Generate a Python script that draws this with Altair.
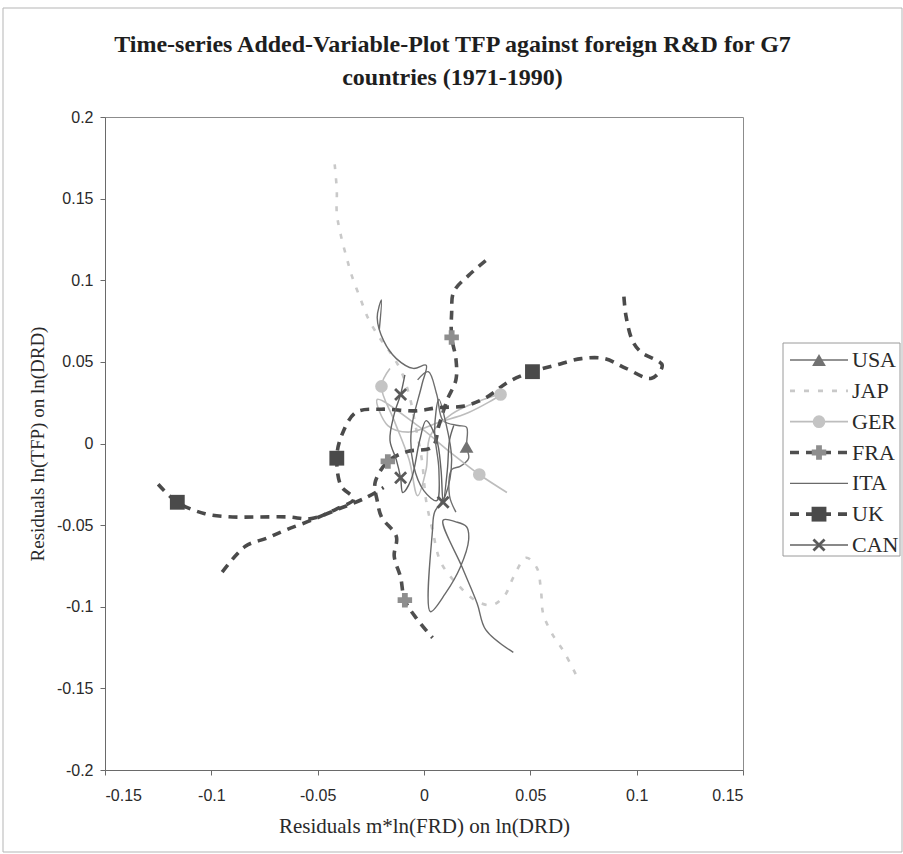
import altair as alt
import pandas as pd

COUNTRIES = ["USA", "JAP", "GER", "FRA", "ITA", "UK", "CAN"]
X_TICKS = [-0.15, -0.1, -0.05, 0, 0.05, 0.1, 0.15]
Y_TICKS = [-0.2, -0.15, -0.1, -0.05, 0, 0.05, 0.1, 0.15, 0.2]

# ---- series paths ----
USA_X = [-0.003, 0.002, 0.006, 0.009, 0.016, 0.020, 0.020, 0.021, 0.017, 0.013, 0.012, 0.015]
USA_Y = [0.039, 0.044, 0.030, 0.014, 0.011, 0.010, -0.002, -0.009, -0.014, -0.016, -0.032, -0.042]

JAP_X = [-0.042, -0.041, -0.041, -0.039, -0.036, -0.034, -0.030, -0.026, -0.021, -0.016, -0.011,
         -0.007, -0.004, -0.001, 0.001, 0.004, 0.008, 0.017, 0.024, 0.032, 0.038, 0.042, 0.048,
         0.053, 0.055, 0.056, 0.060, 0.066, 0.072]
JAP_Y = [0.171, 0.155, 0.141, 0.127, 0.112, 0.103, 0.089, 0.076, 0.065, 0.056, 0.045,
         0.030, 0.011, -0.010, -0.035, -0.053, -0.073, -0.088, -0.096, -0.099, -0.093, -0.082,
         -0.070, -0.076, -0.090, -0.104, -0.116, -0.128, -0.143]

GER_X = [-0.016, -0.020, -0.014, -0.007, -0.003, 0.001, 0.003, 0.013, 0.024, 0.036, 0.021,
         0.007, -0.007, -0.017, -0.022, -0.002, 0.012, 0.026, 0.039]
GER_Y = [0.046, 0.035, 0.014, -0.010, -0.032, -0.016, 0.005, 0.018, 0.025, 0.030, 0.019,
         0.013, 0.007, 0.011, 0.027, 0.010, -0.005, -0.019, -0.030]

FRA_X = [0.029, 0.021, 0.014, 0.013, 0.013, 0.015, 0.015, 0.011, 0.007, 0.004, -0.008,
         -0.017, -0.023, -0.022, -0.020, -0.013, -0.014, -0.011, -0.009, -0.003, 0.004]
FRA_Y = [0.112, 0.103, 0.093, 0.080, 0.065, 0.052, 0.039, 0.027, 0.011, -0.002, -0.005,
         -0.011, -0.024, -0.035, -0.045, -0.057, -0.069, -0.082, -0.096, -0.108, -0.119]

ITA_X = [-0.021, -0.020, -0.022, -0.019, -0.013, -0.005, 0.001, -0.001, -0.006, -0.005, 0.000,
         0.006, 0.007, 0.005, 0.007, 0.010, 0.013, 0.010, 0.005, 0.004, 0.003, 0.010, 0.017,
         0.021, 0.020, 0.015, 0.009, 0.018, 0.025, 0.029, 0.042]
ITA_Y = [0.070, 0.088, 0.077, 0.063, 0.052, 0.046, 0.048, 0.036, 0.008, -0.013, -0.029,
         -0.035, -0.016, 0.008, 0.027, 0.014, -0.010, -0.032, -0.042, -0.053, -0.103, -0.092, -0.076,
         -0.059, -0.051, -0.048, -0.047, -0.076, -0.098, -0.114, -0.128]

# UK drawn as two visible pieces
UK_A_X = [0.094, 0.095, 0.098, 0.102, 0.112, 0.107, 0.095, 0.085, 0.074, 0.062, 0.051, 0.040,
          0.029, 0.019, 0.007, -0.004, -0.020, -0.032, -0.039, -0.041, -0.039, -0.033, -0.041,
          -0.053, -0.065, -0.074, -0.084, -0.095]
UK_A_Y = [0.090, 0.078, 0.063, 0.056, 0.048, 0.040, 0.046, 0.052, 0.052, 0.048, 0.044, 0.038,
          0.028, 0.023, 0.022, 0.020, 0.021, 0.019, 0.004, -0.009, -0.026, -0.034, -0.040,
          -0.047, -0.053, -0.058, -0.063, -0.079]
UK_B_X = [-0.125, -0.116, -0.103, -0.090, -0.078, -0.064, -0.053, -0.040, -0.027, -0.019]
UK_B_Y = [-0.025, -0.036, -0.043, -0.045, -0.045, -0.045, -0.046, -0.040, -0.033, -0.027]

CAN_X = [-0.009, -0.011, -0.014, -0.016, -0.013, -0.011, -0.010, -0.006, -0.002, 0.001,
         0.006, 0.008, 0.009, 0.011, 0.012, 0.014]
CAN_Y = [0.042, 0.030, 0.018, 0.002, -0.010, -0.021, -0.030, -0.022, 0.002, 0.014,
         0.002, -0.016, -0.036, -0.016, 0.002, 0.011]

# ---- marker points ----
USA_MX = [0.020]
USA_MY = [-0.002]
GER_MX = [-0.020, 0.036, 0.026]
GER_MY = [0.035, 0.030, -0.019]
FRA_MX = [0.013, -0.017, -0.009]
FRA_MY = [0.065, -0.011, -0.096]
UK_MX = [-0.116, -0.041, 0.051]
UK_MY = [-0.036, -0.009, 0.044]
CAN_MX = [-0.011, -0.011, 0.009]
CAN_MY = [0.030, -0.021, -0.036]

TITLE = ["Time-series Added-Variable-Plot TFP against foreign R&D for G7",
         "countries (1971-1990)"]
X_TITLE = "Residuals m*ln(FRD) on ln(DRD)"
Y_TITLE = "Residuals ln(TFP) on ln(DRD)"

# ---- build tables ----
paths = {
    "USA": [(USA_X, USA_Y)],
    "JAP": [(JAP_X, JAP_Y)],
    "GER": [(GER_X, GER_Y)],
    "FRA": [(FRA_X, FRA_Y)],
    "ITA": [(ITA_X, ITA_Y)],
    "UK": [(UK_A_X, UK_A_Y), (UK_B_X, UK_B_Y)],
    "CAN": [(CAN_X, CAN_Y)],
}
markers = {
    "USA": (USA_MX, USA_MY),
    "GER": (GER_MX, GER_MY),
    "FRA": (FRA_MX, FRA_MY),
    "UK": (UK_MX, UK_MY),
    "CAN": (CAN_MX, CAN_MY),
}

rows = []
for c, segs in paths.items():
    for si, (xs_, ys_) in enumerate(segs):
        for i, (xv, yv) in enumerate(zip(xs_, ys_)):
            rows.append({"country": c, "seg": f"{c}{si}", "order": i, "x": xv, "y": yv})
lines_df = pd.DataFrame(rows)

mrows = []
for c, (xs_, ys_) in markers.items():
    for xv, yv in zip(xs_, ys_):
        mrows.append({"country": c, "x": xv, "y": yv})
marks_df = pd.DataFrame(mrows)

legend_df = pd.DataFrame({"country": COUNTRIES})
one_df = pd.DataFrame({"k": [0]})

# ---- styles ----
X_SHAPE = "M-1,-0.7L-0.7,-1L0,-0.3L0.7,-1L1,-0.7L0.3,0L1,0.7L0.7,1L0,0.3L-0.7,1L-1,0.7L-0.3,0Z"
LINE_STYLE = {
    "USA": dict(color="#6f6f6f", strokeWidth=1.4),
    "JAP": dict(color="#c9c9c9", strokeWidth=2.6, strokeDash=[5, 9]),
    "GER": dict(color="#bdbdbd", strokeWidth=1.6),
    "FRA": dict(color="#4f4f4f", strokeWidth=3.6, strokeDash=[9, 7]),
    "ITA": dict(color="#6a6a6a", strokeWidth=1.4),
    "UK": dict(color="#4a4a4a", strokeWidth=3.6, strokeDash=[9, 7]),
    "CAN": dict(color="#626262", strokeWidth=1.4),
}
MARK_STYLE = {
    "USA": dict(shape="triangle-up", color="#727272", size=190),
    "GER": dict(shape="circle", color="#c4c4c4", size=160),
    "FRA": dict(shape="cross", color="#8e8e8e", size=210),
    "UK": dict(shape="square", color="#4a4a4a", size=220),
    "CAN": dict(shape=X_SHAPE, color="#5a5a5a", size=170),
}

xs = alt.Scale(domain=[-0.15, 0.15], nice=False, zero=False)
ys = alt.Scale(domain=[-0.2, 0.2], nice=False, zero=False)
x_axis = alt.Axis(values=X_TICKS, labelExpr="'' + datum.value", title=X_TITLE,
                  tickSize=5, labelPadding=12, titlePadding=12, grid=False)
y_axis = alt.Axis(values=Y_TICKS, labelExpr="'' + datum.value", title=Y_TITLE,
                  tickSize=5, labelPadding=7, titlePadding=9, titleFontSize=19, grid=False)

main_layers = []
for c in COUNTRIES:
    st = LINE_STYLE[c]
    main_layers.append(
        alt.Chart(lines_df).transform_filter(alt.datum.country == c)
        .mark_line(interpolate="catmull-rom", clip=True, **st)
        .encode(x=alt.X("x:Q", scale=xs, axis=x_axis),
                y=alt.Y("y:Q", scale=ys, axis=y_axis),
                order="order:Q", detail="seg:N")
    )
for c in ["USA", "GER", "FRA", "UK", "CAN"]:
    st = MARK_STYLE[c]
    main_layers.append(
        alt.Chart(marks_df).transform_filter(alt.datum.country == c)
        .mark_point(filled=True, opacity=1, strokeWidth=0, **st)
        .encode(x=alt.X("x:Q", scale=xs, axis=x_axis),
                y=alt.Y("y:Q", scale=ys, axis=y_axis))
    )
main = alt.layer(*main_layers)

# ---- legend panel (right side) ----
ly = alt.Scale(type="point", domain=COUNTRIES, range=[243, 428], padding=0)
leg_layers = [
    alt.Chart(one_df).mark_rect(fill="white", stroke="#9a9a9a", strokeWidth=1)
    .encode(x=alt.value(678), x2=alt.value(795), y=alt.value(226), y2=alt.value(439)),
    alt.Chart(one_df).mark_rect(fillOpacity=0, stroke="#b5b5b5", strokeWidth=1)
    .encode(x=alt.value(-102), x2=alt.value(797), y=alt.value(-109), y2=alt.value(735)),
]
for c in COUNTRIES:
    st = LINE_STYLE[c]
    leg_layers.append(
        alt.Chart(legend_df).transform_filter(alt.datum.country == c)
        .mark_rule(**st)
        .encode(x=alt.value(685), x2=alt.value(743),
                y=alt.Y("country:N", scale=ly, axis=None))
    )
for c in ["USA", "GER", "FRA", "UK", "CAN"]:
    st = MARK_STYLE[c]
    leg_layers.append(
        alt.Chart(legend_df).transform_filter(alt.datum.country == c)
        .mark_point(filled=True, opacity=1, strokeWidth=0, **st)
        .encode(x=alt.value(714), y=alt.Y("country:N", scale=ly, axis=None))
    )
leg_layers.append(
    alt.Chart(legend_df).mark_text(align="left", baseline="middle", font="Liberation Serif",
                                   fontSize=22, color="#2a2a2a")
    .encode(x=alt.value(747), y=alt.Y("country:N", scale=ly, axis=None), text="country:N")
)
legend = alt.layer(*leg_layers)

chart = (
    alt.layer(main, legend)
    .resolve_scale(y="independent", x="independent")
    .properties(
        width=638, height=653,
        autosize=alt.AutoSizeParams(type="none"),
        padding={"left": 105, "top": 117, "right": 160, "bottom": 84},
        title=alt.TitleParams(text=TITLE, font="Liberation Serif", fontSize=24,
                              fontWeight="bold", color="#1e1e1e", anchor="middle",
                              frame="bounds", lineHeight=33, offset=-82),
        background="white",
    )
    .configure_view(stroke="#8c8c8c", strokeWidth=1)
    .configure_axis(domainColor="#6a6a6a", tickColor="#6a6a6a", labelFont="Liberation Sans",
                    labelFontSize=16, labelColor="#2a2a2a", titleFont="Liberation Serif",
                    titleFontSize=21, titleFontWeight="normal", titleColor="#2a2a2a")
)

chart.save("out.html", embed_options={"renderer": "svg", "actions": False})
